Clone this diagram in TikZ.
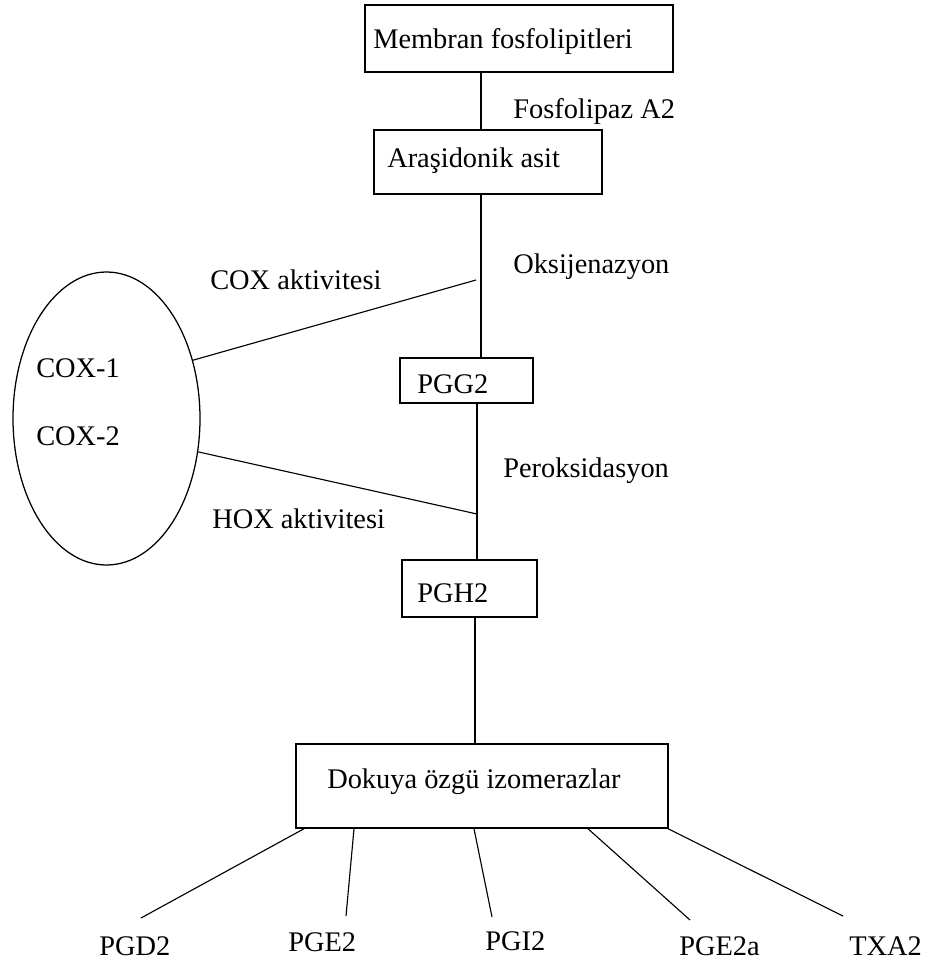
\documentclass[tikz,border=0pt]{standalone}
\usepackage{fontspec}
\setmainfont{Liberation Serif}
\usetikzlibrary{shapes.geometric}
\tikzset{
  boxnode/.style={draw, line width=1.1pt, rectangle, inner sep=0pt},
  txt/.style={anchor=base west, inner sep=0pt, font=\fontsize{21.3}{25}\selectfont},
  conn/.style={line width=1.1pt},
  thinconn/.style={line width=0.85pt}
}
\begin{document}
\begin{tikzpicture}[x=0.75pt,y=-0.75pt]
\useasboundingbox[fill=white] (0,0) rectangle (932,965);

% boxes
\node[boxnode, minimum width=231pt, minimum height=50.25pt] (mem) at (519,38.5) {};
\node[boxnode, minimum width=171pt, minimum height=48pt] (ara) at (488,162) {};
\node[boxnode, minimum width=99.75pt, minimum height=33.75pt] (pgg) at (466.5,380.5) {};
\node[boxnode, minimum width=101.25pt, minimum height=42.75pt] (pgh) at (469.5,588.5) {};
\node[boxnode, minimum width=279pt, minimum height=63pt] (dok) at (482,786) {};
\node[draw, ellipse, line width=0.95pt, inner sep=0pt, minimum width=140.25pt, minimum height=219.75pt] (ell) at (106.5,418.5) {};

% texts
\node[txt] (memt) at (373,48) {Membran fosfolipitleri};
\node[txt] (fosf) at (513,118) {Fosfolipaz A2};
\node[txt] (arat) at (387,167) {Araşidonik asit};
\node[txt] (oksi) at (513,273) {Oksijenazyon};
\node[txt] (coxa) at (210,289) {COX aktivitesi};
\node[txt] (cox1) at (36,377) {COX-1};
\node[txt] (cox2) at (36,445) {COX-2};
\node[txt] (pggt) at (417,393) {PGG2};
\node[txt] (pero) at (503,477) {Peroksidasyon};
\node[txt] (hoxa) at (212,528) {HOX aktivitesi};
\node[txt] (pght) at (417,602) {PGH2};
\node[txt] (dokt) at (327,788) {Dokuya özgü izomerazlar};
\node[txt] (pgd) at (99,955) {PGD2};
\node[txt] (pge) at (288,951) {PGE2};
\node[txt] (pgi) at (485,950) {PGI2};
\node[txt] (pgea) at (679,955) {PGE2a};
\node[txt] (txa) at (849,955) {TXA2};

% main chain
\draw[conn] (481,0 |- mem.south) -- (481,0 |- ara.north);
\draw[conn] (481,0 |- ara.south) -- (481,0 |- pgg.north);
\draw[conn] (477,0 |- pgg.south) -- (477,0 |- pgh.north);
\draw[conn] (475,0 |- pgh.south) -- (475,0 |- dok.north);

% enzyme connectors
\coordinate (coxend) at (476,280);
\coordinate (hoxend) at (477,514);
\draw[thinconn] (ell.34) -- (coxend);
\draw[thinconn] (ell.-20) -- (hoxend);

% product connectors
\coordinate (epgd) at (141,918);
\coordinate (epge) at (346,916);
\coordinate (epgi) at (492,917);
\coordinate (epgea) at (690,920);
\coordinate (etxa) at (843,916);
\draw[thinconn] (304,0 |- dok.south) -- (epgd);
\draw[thinconn] (354,0 |- dok.south) -- (epge);
\draw[thinconn] (474,0 |- dok.south) -- (epgi);
\draw[thinconn] (588,0 |- dok.south) -- (epgea);
\draw[thinconn] (668,0 |- dok.south) -- (etxa);
\end{tikzpicture}
\end{document}
